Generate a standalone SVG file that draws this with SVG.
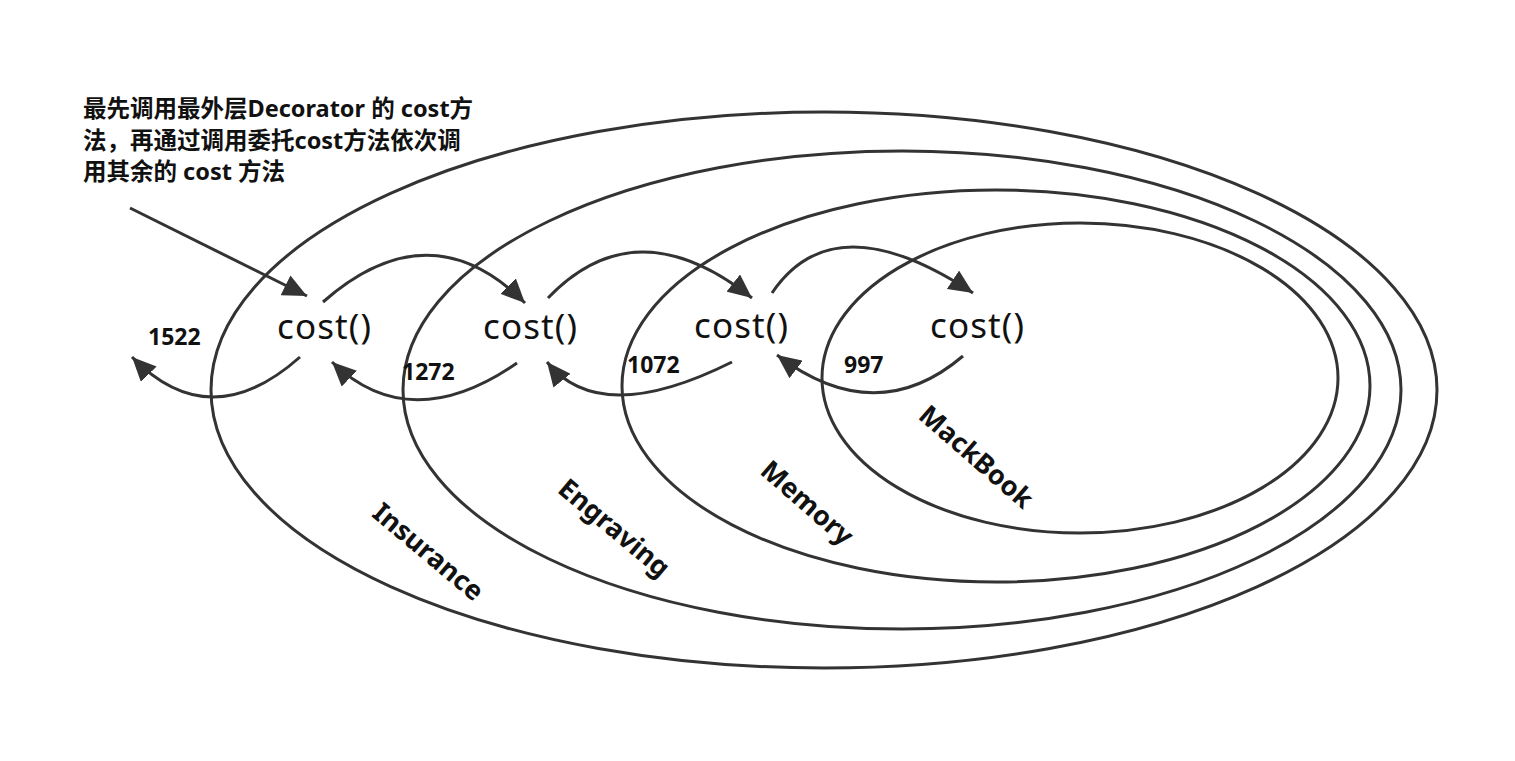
<svg xmlns="http://www.w3.org/2000/svg" width="1515" height="761" viewBox="0 0 1515 761">
<defs>
<marker id="ah" markerUnits="userSpaceOnUse" markerWidth="26" markerHeight="22" refX="24" refY="11" orient="auto">
<path d="M0,0 L24,11 L0,22 Z" fill="#333"/>
</marker>
<style>
.ring{fill:none;stroke:#333;stroke-width:3}
.conn{fill:none;stroke:#333;stroke-width:3;marker-end:url(#ah)}
.fn{font-family:"Noto Sans","Open Sans",sans-serif;font-size:35px;fill:#111;text-anchor:middle}
.num{font-family:"Noto Sans","Open Sans",sans-serif;font-size:23px;font-weight:bold;fill:#111}
.lbl{font-family:"Noto Sans","Open Sans",sans-serif;font-size:27px;font-weight:bold;fill:#111;text-anchor:middle;dominant-baseline:central}
.note{font-family:"Noto Sans","Noto Sans CJK SC",sans-serif;font-size:23.5px;font-weight:bold;fill:#111}
</style>
</defs>
<rect width="1515" height="761" fill="#fff"/>
<g id="insurance">
<ellipse class="ring" cx="824" cy="390" rx="613" ry="278"/>
<text class="lbl" transform="translate(429,551) rotate(40)">Insurance</text>
</g>
<g id="engraving">
<ellipse class="ring" cx="902" cy="390" rx="499" ry="239"/>
<text class="lbl" transform="translate(615,527) rotate(40)">Engraving</text>
</g>
<g id="memory">
<ellipse class="ring" cx="996" cy="386" rx="374" ry="196"/>
<text class="lbl" transform="translate(808,502) rotate(41)">Memory</text>
</g>
<g id="mackbook">
<ellipse class="ring" cx="1080" cy="378" rx="258" ry="155"/>
<text class="lbl" transform="translate(977,456) rotate(41)">MackBook</text>
</g>
<g id="cost1"><text class="fn" x="324" y="339" textLength="94">cost()</text></g>
<g id="cost2"><text class="fn" x="530" y="339" textLength="94">cost()</text></g>
<g id="cost3"><text class="fn" x="741" y="338" textLength="94">cost()</text></g>
<g id="cost4"><text class="fn" x="977" y="338" textLength="94">cost()</text></g>
<g id="note">
<text class="note" x="83" y="117">最先调用最外层Decorator 的 cost方</text>
<text class="note" x="83" y="149">法，再通过调用委托cost方法依次调</text>
<text class="note" x="83" y="180">用其余的 cost 方法</text>
</g>
<g id="connectors">
<path class="conn" d="M130,208 L307,296"/>
<path class="conn" d="M323,302 Q430,208 525,303"/>
<path class="conn" d="M548,298 Q636,206 752,298"/>
<path class="conn" d="M772,293 Q834,201 973,293"/>
<path class="conn" d="M963,356 Q876,430 777,355"/>
<path class="conn" d="M732,362 Q600,428 547,362"/>
<path class="conn" d="M517,363 Q410,437 332,362"/>
<path class="conn" d="M300,357 Q210,437 132,357"/>
<text class="num" x="148" y="345">1522</text>
<text class="num" x="402" y="380">1272</text>
<text class="num" x="627" y="373">1072</text>
<text class="num" x="844" y="373">997</text>
</g>
</svg>
